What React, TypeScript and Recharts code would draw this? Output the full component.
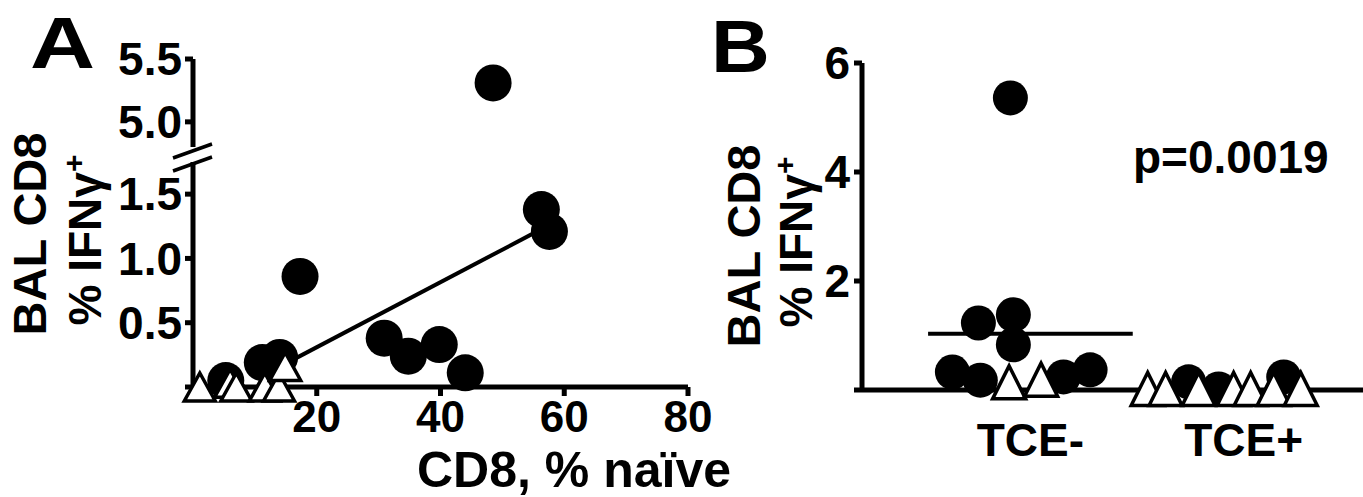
import React from 'react'
import { ScatterChart, Scatter, XAxis, YAxis, ReferenceLine } from 'recharts'

const FONT = '"Liberation Sans", Arial, Helvetica, sans-serif'

// ---- panel A: CD8 % naive vs BAL CD8 % IFNg+ ----
// filled circles (lower part of the broken axis)
const naiveCirc = [5.3, 11.2, 14.0, 17.3, 30.9, 34.8, 39.8, 44.0, 56.3, 57.6]
const ifngCirc = [0.05, 0.19, 0.23, 0.86, 0.38, 0.24, 0.33, 0.11, 1.38, 1.21]
// filled circle above the break
const naiveHigh = [48.5]
const ifngHigh = [5.31]
// open triangles
const naiveTri = [1.1, 6.0, 7.0, 11.6, 13.9, 14.9]
const ifngTri = [0, 0.03, 0, 0, 0, 0.16]
// regression line ends
const fitX = [14.5, 56]
const fitY = [0.17, 1.22]
const naiveTicks = [20, 40, 60, 80]
const lowTicks = [0, 0.5, 1.0, 1.5]
const highTicks = [5.0, 5.5]

// ---- panel B: TCE- vs TCE+ ----
const groups = ['TCE-', 'TCE+']
const negCirc = [5.36, 1.23, 1.38, 0.83, 0.33, 0.18, 0.24, 0.37]
const negCircJit = [-0.094, -0.244, -0.08, -0.08, -0.366, -0.235, 0.155, 0.28]
const negTri = [0.14, 0.19]
const negTriJit = [-0.1, 0.05]
const posCirc = [0.15, 0.02, 0.24]
const posCircJit = [-0.258, -0.117, 0.188]
const posTri = [0.02, 0.02, 0.02, 0.02, 0.02, 0.02, 0.02]
const posTriJit = [-0.45, -0.366, -0.211, -0.047, 0.033, 0.141, 0.268]
const negMean = 1.03
const bTicks = [0, 2, 4, 6]

const pts = (xs: number[], ys: number[]) => xs.map((x, i) => ({ x, y: ys[i] }))
const grp = (g: number, jit: number[], ys: number[]) => jit.map((j, i) => ({ x: g + j, y: ys[i] }))

const dot = (r: number) => (p: any) => <circle cx={p.cx} cy={p.cy} r={r} fill="#000" />
const tri = (w: number, h: number) => (p: any) => (
  <polygon
    points={`${p.cx},${p.cy - h / 2} ${p.cx - w / 2},${p.cy + h / 2} ${p.cx + w / 2},${p.cy + h / 2}`}
    fill="#fff"
    stroke="#000"
    strokeWidth={3.5}
  />
)

const axisLine = { stroke: '#000', strokeWidth: 5 }
const tickStyle = { fill: '#000', fontSize: 46, fontWeight: 700, fontFamily: FONT }
const fmt1 = (v: number) => (v === 0 ? '' : v.toFixed(1))

export default function App() {
  return (
    <div style={{ position: 'absolute', left: 0, top: 0, width: 1363, height: 497, background: '#fff', overflow: 'hidden' }}>
      {/* A, lower part */}
      <div style={{ position: 'absolute', left: 0, top: 0 }}>
        <ScatterChart width={720} height={497} margin={{ top: 162, right: 32, bottom: 50, left: 133 }}>
          <XAxis type="number" dataKey="x" domain={[0, 80]} ticks={naiveTicks} height={60}
            axisLine={axisLine} tickLine={axisLine} tickSize={9} tickMargin={5}
            tick={{ ...tickStyle, fontSize: 44 }} />
          <YAxis type="number" dataKey="y" domain={[0, 1.75]} ticks={lowTicks} width={60} tickFormatter={fmt1}
            axisLine={axisLine} tickLine={axisLine} tickSize={8} tickMargin={3} tick={tickStyle} />
          <ReferenceLine segment={[{ x: fitX[0], y: fitY[0] }, { x: fitX[1], y: fitY[1] }]} stroke="#000" strokeWidth={4} />
          <Scatter data={pts(naiveCirc, ifngCirc)} shape={dot(18.5)} isAnimationActive={false} />
          <Scatter data={pts(naiveTri, ifngTri)} shape={tri(31, 28)} isAnimationActive={false} />
        </ScatterChart>
      </div>
      {/* A, upper part above the break */}
      <div style={{ position: 'absolute', left: 0, top: 0 }}>
        <ScatterChart width={720} height={150} margin={{ top: 59, right: 32, bottom: 3, left: 133 }}>
          <XAxis type="number" dataKey="x" domain={[0, 80]} hide />
          <YAxis type="number" dataKey="y" domain={[4.8, 5.5]} ticks={highTicks} width={60} tickFormatter={fmt1}
            axisLine={axisLine} tickLine={axisLine} tickSize={8} tickMargin={3} tick={tickStyle} />
          <Scatter data={pts(naiveHigh, ifngHigh)} shape={dot(18.5)} isAnimationActive={false} />
        </ScatterChart>
      </div>
      {/* B */}
      <div style={{ position: 'absolute', left: 700, top: 0 }}>
        <ScatterChart width={663} height={497} margin={{ top: 63, right: 0, bottom: 47, left: 102 }}>
          <XAxis type="number" dataKey="x" domain={[0.21, 2.56]} ticks={[1, 2]} height={60}
            tickFormatter={(v: number) => groups[v - 1]}
            axisLine={axisLine} tickLine={false} tickSize={0} tickMargin={33} tick={tickStyle} />
          <YAxis type="number" dataKey="y" domain={[0, 6]} ticks={bTicks} width={60}
            tickFormatter={(v: number) => (v === 0 ? '' : String(v))}
            axisLine={axisLine} tickLine={axisLine} tickSize={8} tickMargin={4} tick={tickStyle} />
          <ReferenceLine segment={[{ x: 1 - 0.48, y: negMean }, { x: 1 + 0.48, y: negMean }]} stroke="#000" strokeWidth={4} />
          <Scatter data={[...grp(1, negCircJit, negCirc), ...grp(2, posCircJit, posCirc)]} shape={dot(17.5)} isAnimationActive={false} />
          <Scatter data={[...grp(1, negTriJit, negTri), ...grp(2, posTriJit, posTri)]} shape={tri(33, 33)} isAnimationActive={false} />
        </ScatterChart>
      </div>
      {/* titles, axis labels, break marks */}
      <svg width={1363} height={497} style={{ position: 'absolute', left: 0, top: 0, pointerEvents: 'none' }}
        fontFamily={FONT} fontWeight={700} fill="#000">
        <text transform="translate(30,68) scale(1.25,1)" fontSize={72}>A</text>
        <text transform="translate(711,72) scale(1.1,1)" fontSize={74}>B</text>
        <line x1={173} y1={158} x2={212} y2={144} stroke="#000" strokeWidth={3.5} />
        <line x1={173} y1={171} x2={212} y2={157} stroke="#000" strokeWidth={3.5} />
        <text transform="translate(46,234) rotate(-90)" textAnchor="middle" fontSize={47}>BAL CD8</text>
        <text transform="translate(101,240) rotate(-90)" textAnchor="middle" fontSize={46}>
          % IFNγ<tspan dy={-17} fontSize={30}>+</tspan>
        </text>
        <text x={574} y={487} textAnchor="middle" fontSize={50}>CD8, % naïve</text>
        <text transform="translate(760,246) rotate(-90)" textAnchor="middle" fontSize={47}>BAL CD8</text>
        <text transform="translate(812,242) rotate(-90)" textAnchor="middle" fontSize={46}>
          % IFNγ<tspan dy={-17} fontSize={30}>+</tspan>
        </text>
        <text x={1133} y={173} fontSize={46}>p=0.0019</text>
      </svg>
    </div>
  )
}
